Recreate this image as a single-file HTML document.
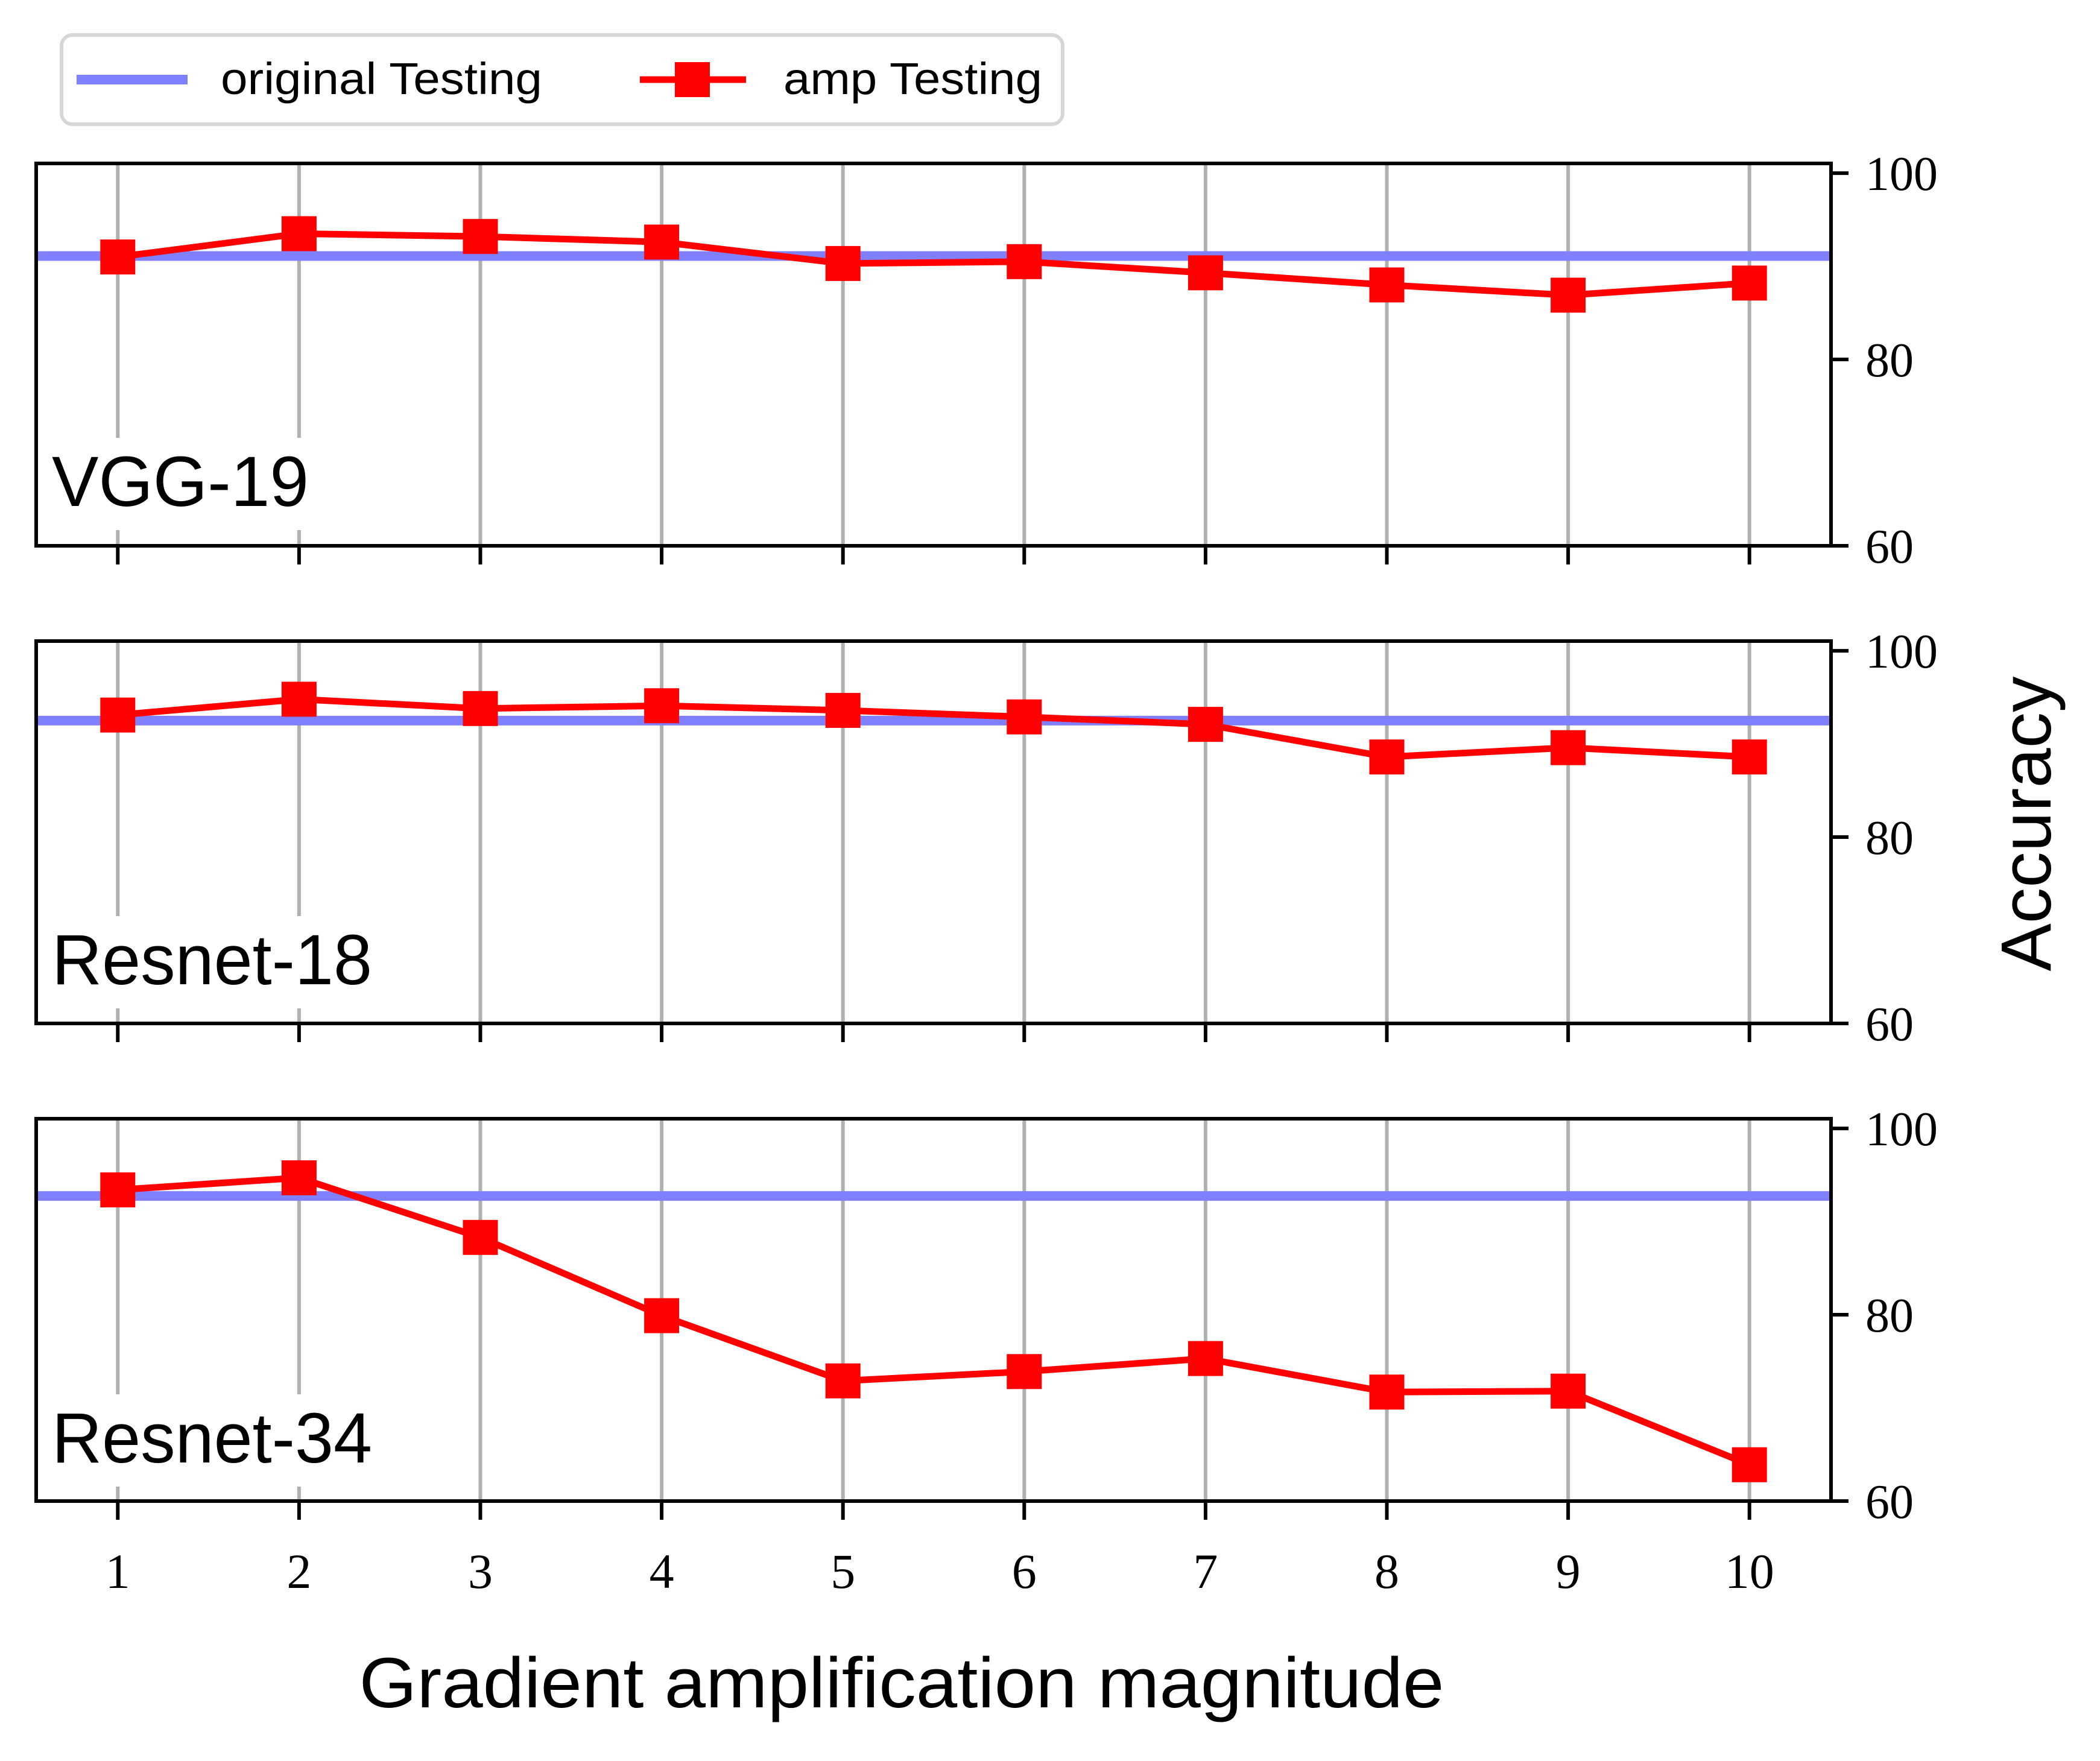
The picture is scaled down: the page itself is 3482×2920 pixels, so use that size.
<!DOCTYPE html>
<html><head><meta charset="utf-8"><style>
html,body{margin:0;padding:0;background:#fff;}
svg{display:block;}
</style></head><body>
<svg id="chart" xmlns="http://www.w3.org/2000/svg" width="3482" height="2920" viewBox="0 0 3482 2920">
<rect x="0" y="0" width="3482" height="2920" fill="#fff"/>
<g id="legend">
<rect x="102" y="58" width="1660" height="148" rx="18" fill="#fff" stroke="#d6d6d6" stroke-width="6"/>
<g>
<line x1="127" y1="132" x2="311" y2="132" stroke="#8080ff" stroke-width="16"/>
<text x="366" y="156" font-family="Liberation Sans, sans-serif" font-size="74" textLength="533" lengthAdjust="spacingAndGlyphs">original Testing</text>
</g>
<g>
<line x1="1061" y1="132" x2="1237" y2="132" stroke="#ff0000" stroke-width="11"/>
<rect x="1119" y="103" width="58" height="58" fill="#ff0000"/>
<text x="1299" y="156" font-family="Liberation Sans, sans-serif" font-size="74" textLength="429" lengthAdjust="spacingAndGlyphs">amp Testing</text>
</g>
</g>
<g id="plots"></g>
<text x="1495" y="2831" text-anchor="middle" font-family="Liberation Sans, sans-serif" font-size="118" textLength="1799" lengthAdjust="spacingAndGlyphs">Gradient amplification magnitude</text>
<text transform="translate(3400,1366) rotate(-90)" text-anchor="middle" font-family="Liberation Sans, sans-serif" font-size="118" textLength="489" lengthAdjust="spacingAndGlyphs">Accuracy</text>
</svg>
<script>
const categories = [1,2,3,4,5,6,7,8,9,10];
const panelNames = ["VGG-19","Resnet-18","Resnet-34"];
const vggAmp = [91.0,93.5,93.2,92.6,90.3,90.5,89.3,88.0,86.9,88.2];
const resnet18Amp = [93.1,94.8,93.8,94.1,93.6,92.9,92.1,88.6,89.6,88.6];
const resnet34Amp = [93.4,94.7,88.3,79.9,72.9,73.9,75.3,71.7,71.8,63.9];
const originalBaseline = [91.1,92.5,92.75];
const yTickLabels = [60,80,100];
const xTickLabels = ["1","2","3","4","5","6","7","8","9","10"];

const NS="http://www.w3.org/2000/svg";
const L=60, R=3036, PH=634;
const panelTops=[271,1063,1855];
const X0=0.55, X1=10.45, Y0=60, Y1=101.04;
function xs(v){return L+(v-X0)/(X1-X0)*(R-L);}
function ys(v,top){return top+PH-(v-Y0)/(Y1-Y0)*PH;}
function mk(tag,attrs,parent){const e=document.createElementNS(NS,tag);for(const k in attrs)e.setAttribute(k,attrs[k]);parent.appendChild(e);return e;}
const root=document.getElementById('plots');
const series=[vggAmp,resnet18Amp,resnet34Amp];
const labelBase=[839,1632,2425];
const labelLen=[426,531,531];
for(let p=0;p<3;p++){
  const top=panelTops[p], bot=top+PH;
  const g=mk('g',{},root);
  
  
  for(let i=0;i<categories.length;i++){
    const gl=mk('line',{x1:xs(categories[i]),x2:xs(categories[i]),y1:top,y2:bot,stroke:'#b0b0b0','stroke-width':6},g);
    
    
  }
  const bx=mk('rect',{x:70,y:labelBase[p]-113,width:labelLen[p]+30,height:153,fill:'#fff'},g);
  
  
  const bl=mk('line',{x1:L,x2:R,y1:ys(originalBaseline[p],top),y2:ys(originalBaseline[p],top),stroke:'#8080ff','stroke-width':16},g);
  
  
  const pts=series[p].map((v,i)=>xs(categories[i])+','+ys(v,top)).join(' ');
  const pl=mk('polyline',{points:pts,fill:'none',stroke:'#ff0000','stroke-width':11,'stroke-linejoin':'round'},g);
  
  
  for(let i=0;i<categories.length;i++){
    const m=mk('rect',{x:xs(categories[i])-29,y:ys(series[p][i],top)-29,width:58,height:58,fill:'#ff0000'},g);
    
    
  }
  const fr=mk('rect',{x:L,y:top,width:R-L,height:PH,fill:'none',stroke:'#000','stroke-width':6},g);
  
  
  for(let i=0;i<categories.length;i++){
    const t=mk('line',{x1:xs(categories[i]),x2:xs(categories[i]),y1:bot,y2:bot+31,stroke:'#000','stroke-width':6},g);
    
    
    if(p===2){
      const tl=mk('text',{x:xs(categories[i]),y:2633,'text-anchor':'middle','font-family':'Liberation Serif, serif','font-size':82},g);
      tl.textContent=xTickLabels[i];
      
      
    }
  }
  for(let j=0;j<yTickLabels.length;j++){
    const yy=ys(yTickLabels[j],top);
    const t=mk('line',{x1:R,x2:R+29,y1:yy,y2:yy,stroke:'#000','stroke-width':6},g);
    
    
    const tl=mk('text',{x:3093,y:yy+28,'font-family':'Liberation Serif, serif','font-size':80},g);
    tl.textContent=yTickLabels[j];
    
    
  }
  const lab=mk('text',{x:86,y:labelBase[p],'font-family':'Liberation Sans, sans-serif','font-size':118,textLength:labelLen[p],lengthAdjust:'spacingAndGlyphs'},g);
  lab.textContent=panelNames[p];
  
  
}
</script>
</body></html>
